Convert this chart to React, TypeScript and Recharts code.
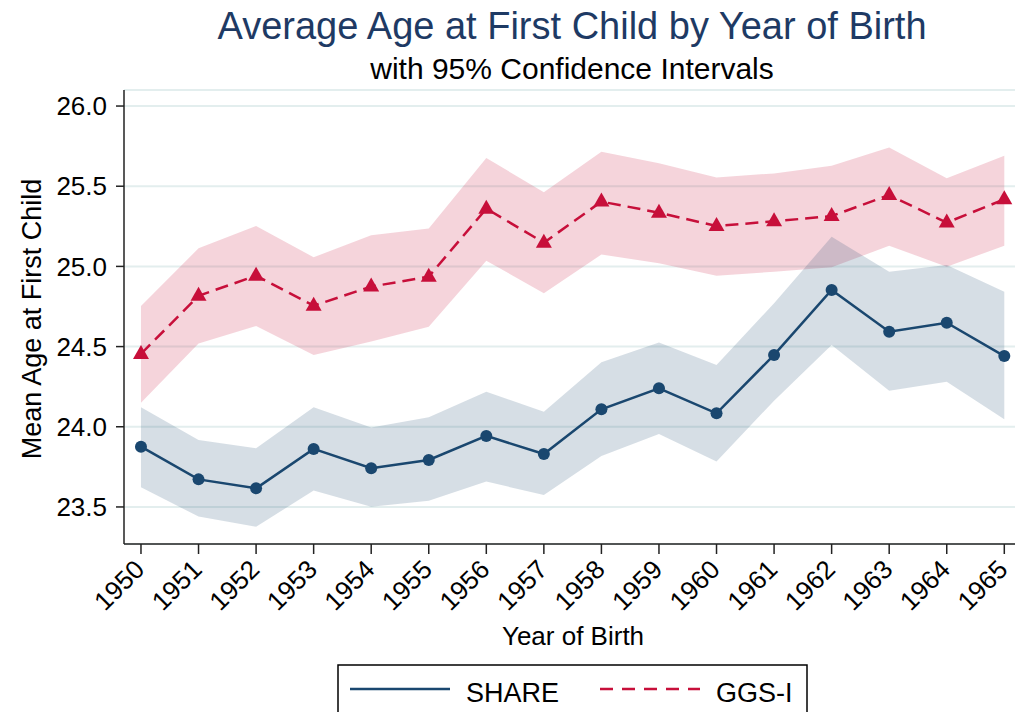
import React from 'react';
import {
  ComposedChart,
  Line,
  Area,
  XAxis,
  YAxis,
  CartesianGrid,
} from 'recharts';

// values
const years = [1950, 1951, 1952, 1953, 1954, 1955, 1956, 1957, 1958, 1959, 1960, 1961, 1962, 1963, 1964, 1965];

const shareMean = [23.876, 23.672, 23.616, 23.862, 23.741, 23.793, 23.943, 23.83, 24.109, 24.24, 24.084, 24.448, 24.853, 24.593, 24.649, 24.441];
const shareLow = [23.623, 23.44, 23.377, 23.602, 23.502, 23.539, 23.658, 23.575, 23.818, 23.955, 23.783, 24.163, 24.51, 24.225, 24.281, 24.047];
const shareHigh = [24.121, 23.918, 23.866, 24.121, 23.995, 24.059, 24.219, 24.094, 24.402, 24.525, 24.385, 24.77, 25.185, 24.967, 25.009, 24.842];

const ggsMean = [24.454, 24.817, 24.942, 24.755, 24.874, 24.936, 25.36, 25.148, 25.404, 25.335, 25.252, 25.281, 25.314, 25.445, 25.273, 25.418];
const ggsLow = [24.15, 24.52, 24.628, 24.448, 24.531, 24.624, 25.036, 24.832, 25.075, 25.019, 24.942, 24.967, 24.994, 25.129, 24.998, 25.129];
const ggsHigh = [24.753, 25.113, 25.252, 25.057, 25.194, 25.237, 25.676, 25.462, 25.715, 25.643, 25.555, 25.58, 25.628, 25.742, 25.549, 25.69];

const yTicks = [23.5, 24.0, 24.5, 25.0, 25.5, 26.0];

const data = years.map((year, i) => ({
  year,
  share: shareMean[i],
  shareBand: [shareLow[i], shareHigh[i]],
  ggs: ggsMean[i],
  ggsBand: [ggsLow[i], ggsHigh[i]],
}));

const NAVY = '#1a476f';
const RED = '#c70f3a';
const FONT = '"Liberation Sans", Arial, sans-serif';

const CircleDot = (props: any) => {
  const { cx, cy, index } = props;
  if (cx == null || cy == null) return null;
  return <circle key={`c${index}`} cx={cx} cy={cy} r={6} fill={NAVY} stroke="none" />;
};

const TriangleDot = (props: any) => {
  const { cx, cy, index } = props;
  if (cx == null || cy == null) return null;
  const pts = `${cx},${cy - 9} ${cx - 8},${cy + 5} ${cx + 8},${cy + 5}`;
  return <polygon key={`t${index}`} points={pts} fill={RED} stroke="none" />;
};

const YearTick = (props: any) => {
  const { x, payload } = props;
  const ax = x + 5;
  const ay = 571;
  return (
    <text
      x={ax}
      y={ay}
      transform={`rotate(-45, ${ax}, ${ay})`}
      textAnchor="end"
      fontSize={26}
      fontFamily={FONT}
      fill="#000"
    >
      {payload.value}
    </text>
  );
};

export default function App() {
  return (
    <div style={{ position: 'absolute', left: 0, top: 0, width: 1015, height: 712, background: '#fff' }}>
      <ComposedChart
        width={1015}
        height={712}
        data={data}
        margin={{ top: 90, right: 0, bottom: 68, left: 0 }}
      >
        <CartesianGrid horizontal vertical={false} stroke="#e3eeee" strokeWidth={2} />
        <XAxis
          dataKey="year"
          type="number"
          domain={[1949.705, 1965.186]}
          ticks={years}
          allowDataOverflow
          height={100}
          tickSize={10}
          tick={<YearTick />}
          stroke="#222"
          strokeWidth={1.5}
          interval={0}
        />
        <YAxis
          type="number"
          domain={[23.269, 26.1]}
          ticks={yTicks}
          allowDataOverflow
          width={124}
          tickSize={8}
          tickMargin={9}
          tickFormatter={(v: number) => v.toFixed(1)}
          tick={{ fontSize: 26, fontFamily: FONT, fill: '#000' }}
          stroke="#222"
          strokeWidth={1.5}
          interval={0}
        />
        <Area
          dataKey="ggsBand"
          type="linear"
          stroke="none"
          fill={RED}
          fillOpacity={0.18}
          isAnimationActive={false}
          activeDot={false}
        />
        <Area
          dataKey="shareBand"
          type="linear"
          stroke="none"
          fill={NAVY}
          fillOpacity={0.18}
          isAnimationActive={false}
          activeDot={false}
        />
        <Line
          dataKey="share"
          type="linear"
          stroke={NAVY}
          strokeWidth={2.5}
          dot={CircleDot}
          activeDot={false}
          isAnimationActive={false}
        />
        <Line
          dataKey="ggs"
          type="linear"
          stroke={RED}
          strokeWidth={2.5}
          strokeDasharray="13 7"
          dot={TriangleDot}
          activeDot={false}
          isAnimationActive={false}
        />
      </ComposedChart>

      <svg
        width={1015}
        height={712}
        style={{ position: 'absolute', left: 0, top: 0, pointerEvents: 'none' }}
        fontFamily={FONT}
      >
        <text x={572} y={39} textAnchor="middle" fontSize={38} fill="#1e3a64">
          Average Age at First Child by Year of Birth
        </text>
        <text x={572} y={79} textAnchor="middle" fontSize={30} fill="#000">
          with 95% Confidence Intervals
        </text>
        <text
          x={41}
          y={319}
          transform="rotate(-90, 41, 319)"
          textAnchor="middle"
          fontSize={27}
          fill="#000"
        >
          Mean Age at First Child
        </text>
        <text x={573} y={645} textAnchor="middle" fontSize={26} fill="#000">
          Year of Birth
        </text>

        <rect x={338} y={665} width={469} height={60} fill="#fff" stroke="#000" strokeWidth={1.5} />
        <line x1={350} y1={689} x2={450} y2={689} stroke={NAVY} strokeWidth={2.5} />
        <text x={466} y={702} fontSize={27} fill="#000">SHARE</text>
        <line x1={600} y1={689} x2={700} y2={689} stroke={RED} strokeWidth={2.5} strokeDasharray="13 9" />
        <text x={716} y={702} fontSize={27} fill="#000">GGS-I</text>
      </svg>
    </div>
  );
}
